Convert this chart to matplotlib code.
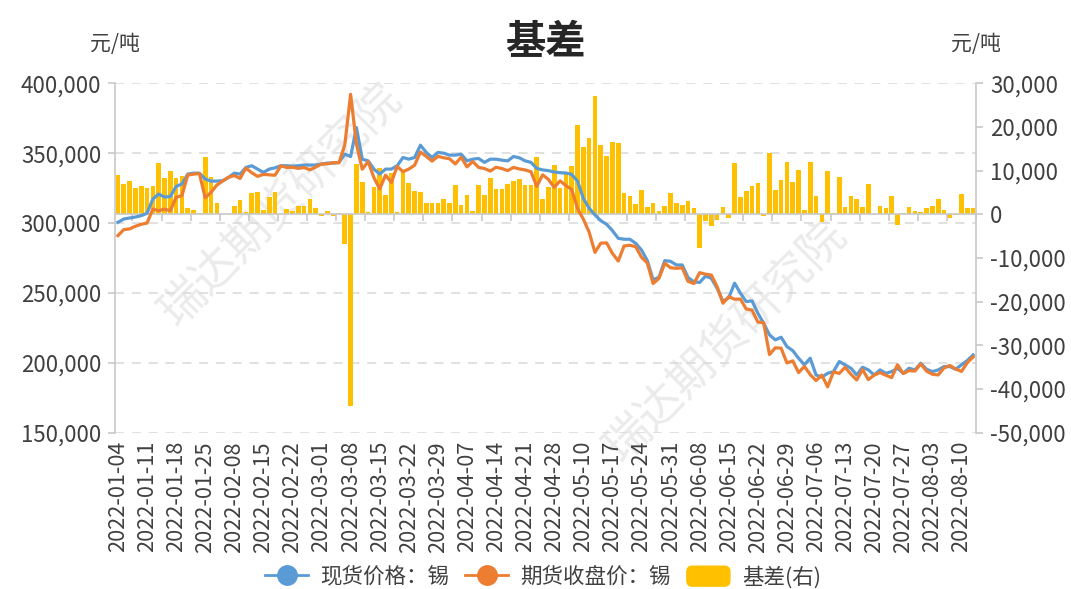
import numpy as np
import pandas as pd
import matplotlib
matplotlib.use("Agg")
import matplotlib.pyplot as plt
from matplotlib.lines import Line2D
from matplotlib.patches import Patch, FancyBboxPatch
from matplotlib.legend_handler import HandlerPatch
from matplotlib.ticker import FuncFormatter

plt.rcParams['font.family'] = ['Noto Sans CJK SC', 'DejaVu Sans']

# SHFE trading days, 2022-01-04 .. 2022-08-12
holidays = ["2022-01-31", "2022-02-01", "2022-02-02", "2022-02-03", "2022-02-04",
            "2022-04-04", "2022-04-05", "2022-05-02", "2022-05-03", "2022-05-04",
            "2022-06-03"]
dates = pd.bdate_range("2022-01-04", "2022-08-12", freq="C", holidays=holidays)
date_labels = [d.strftime("%Y-%m-%d") for d in dates]

# 现货价格：锡 (元/吨)
spot = [300500, 302900, 303600, 304300, 305300, 307000, 317200, 320700, 318600, 319000,
        326200, 327900, 335000, 335700, 335700, 331500, 330000, 330000, 330300, 332600,
        335700, 335000, 339800, 341000, 338600, 336200, 338600, 339500, 341000, 341000,
        340700, 341000, 341500, 341500, 341500, 342200, 342900, 342900, 343400, 349300,
        347600, 368300, 345700, 344500, 338600, 335000, 338600, 338600, 341000, 346900,
        345700, 346900, 355700, 350500, 346900, 350500, 350000, 348600, 348600, 349300,
        344500, 345700, 346200, 343400, 345700, 345700, 345000, 344500, 347600, 346700,
        344500, 343400, 339100, 338000, 337500, 336500, 336000, 335800, 334800, 330000,
        317700, 310600, 305800, 301700, 299100, 294600, 289100, 288400, 288400, 285500,
        280700, 273100, 259300, 261200, 273100, 272600, 270000, 270000, 261000, 258000,
        257500, 262000, 260500, 253300, 244000, 246500, 257000, 249800, 243800, 244300,
        235500, 228300, 220000, 216400, 218300, 211600, 208700, 203300, 198500, 203300,
        191300, 189700, 192500, 193700, 200900, 198500, 196100, 191300, 196800, 194900,
        191300, 194900, 192500, 193700, 196100, 192500, 196100, 194900, 199700, 195400,
        193700, 194900, 197300, 197300, 195400, 198500, 201600, 205600]

# 期货收盘价：锡 (元/吨)
futures = [291000, 295300, 295800, 297700, 299100, 300000, 310000, 308800, 310000, 308800,
           318400, 319600, 334300, 335000, 335400, 318100, 321900, 327200, 330000, 332800,
           334000, 331900, 339300, 336000, 333400, 334800, 334500, 334200, 340900, 339800,
           339900, 339100, 339700, 338100, 340000, 342300, 342300, 343200, 343100, 356000,
           392100, 356400, 338500, 344000, 332500, 324400, 334300, 329000, 340500, 336800,
           338600, 341400, 350800, 347700, 344300, 347700, 346700, 346000, 342300, 347100,
           340200, 344000, 339800, 339000, 337200, 339900, 339000, 337500, 339800, 338700,
           338000, 336700, 326200, 334500, 331200, 325500, 330200, 326800, 324000, 310500,
           302800, 293500, 279000, 285600, 285800, 278300, 272800, 283600, 284100, 283100,
           275500, 271400, 256700, 260400, 271200, 268000, 267600, 268000, 258300, 256700,
           264500, 263400, 262800, 254500, 242600, 247300, 245500, 245600, 238500, 237700,
           229200, 228600, 205900, 210700, 210500, 199900, 201400, 193000, 197400, 191600,
           187300, 191200, 182800, 193500, 192400, 196800, 191800, 187700, 195200, 188000,
           191200, 193000, 191100, 189400, 198600, 192300, 194400, 194100, 199200, 194000,
           191800, 191300, 196300, 198100, 195600, 193800, 200100, 204200]

# 基差(右) (元/吨)
basis = [9000, 6900, 7600, 6100, 6500, 6100, 6400, 11700, 8200, 9900,
         8400, 8700, 1400, 1000, 300, 13100, 8500, 2700, 0, 0,
         1900, 3300, 500, 4800, 5000, 1100, 4000, 5100, 100, 1200,
         800, 1800, 1900, 3500, 1500, -300, 800, -500, 200, -6900,
         -43900, 11600, 7400, 500, 6300, 10500, 4500, 9500, 500, 10200,
         7200, 5300, 5200, 2700, 2700, 2700, 3400, 2600, 6600, 2200,
         4500, 800, 6600, 4400, 8400, 5800, 5800, 7000, 7700, 8100,
         6600, 6600, 13100, 3500, 6300, 11200, 6000, 9200, 11100, 20500,
         15400, 17500, 27200, 15900, 13300, 16600, 16300, 4800, 4300, 2400,
         5600, 1700, 2700, 800, 1900, 4900, 2600, 2100, 3000, 1400,
         -7600, -1500, -2600, -1300, 1700, -900, 11700, 4000, 5300, 6500,
         7100, -400, 14100, 5600, 7800, 12000, 7400, 10200, 1100, 11900,
         4200, -1700, 10000, 200, 8500, 1700, 4300, 3600, 1600, 6900,
         100, 1900, 1400, 4300, -2500, 200, 1700, 800, 500, 1400,
         1900, 3600, 1000, -800, -200, 4700, 1500, 1400]

BLUE = "#5B9BD5"
ORANGE = "#ED7D31"
YELLOW = "#FFC000"
GRID = "#D9D9D9"
AXIS = "#C8C8C8"
TEXT = "#404040"

x = np.arange(len(dates))

fig = plt.figure(figsize=(10.71, 5.89), dpi=100)
ax = fig.add_axes([0.1074, 0.2654, 0.8039, 0.5932])
ax2 = ax.twinx()

# gridlines (behind bars), matching left-axis ticks
for f in np.linspace(0, 1, 6):
    ax2.plot([0, 1], [f, f], transform=ax2.transAxes, color=GRID,
             lw=1.1, dashes=(6, 5), zorder=0)

ax2.bar(x, basis, width=0.8, color=YELLOW, zorder=2)
ax2.axhline(0, color=AXIS, lw=1.2, zorder=3)
xt = np.arange(2.5, len(dates), 5)
ax2.plot(xt, np.zeros(len(xt)), ls="none", marker=3, ms=5, mew=1.2,
         color=AXIS, zorder=3)

ax.plot(x, spot, color=BLUE, lw=2.3, zorder=3)
ax.plot(x, futures, color=ORANGE, lw=2.3, zorder=4)
ax.set_zorder(ax2.get_zorder() + 1)
ax.patch.set_visible(False)

ax.set_xlim(-0.5, len(dates) - 0.5)
ax.set_ylim(150000, 400000)
ax2.set_ylim(-50000, 30000)
ax.set_yticks(np.arange(150000, 400001, 50000))
ax2.set_yticks(np.arange(-50000, 30001, 10000))
fmt = FuncFormatter(lambda v, p: f"{v:,.0f}")
ax.yaxis.set_major_formatter(fmt)
ax2.yaxis.set_major_formatter(fmt)

ax.set_xticks(x[::5])
ax.set_xticklabels(date_labels[::5], rotation=90)
ax.tick_params(axis="x", length=0, pad=6, labelsize=15.6, labelcolor=TEXT)
ax.tick_params(axis="y", length=5, width=1.2, color=AXIS, pad=5,
               labelsize=16, labelcolor=TEXT)
ax2.tick_params(axis="y", length=5, width=1.2, color=AXIS, pad=5,
                labelsize=16, labelcolor=TEXT)

for a in (ax, ax2):
    for s in ("top", "bottom"):
        a.spines[s].set_visible(False)
ax.spines["right"].set_visible(False)
ax2.spines["left"].set_visible(False)
ax.spines["left"].set_color(AXIS)
ax.spines["left"].set_linewidth(1.2)
ax2.spines["right"].set_color(AXIS)
ax2.spines["right"].set_linewidth(1.2)

fig.text(0.509, 0.927, "基差", ha="center", va="center", fontsize=29,
         fontweight="bold", color="#262626")
fig.text(0.107, 0.925, "元/吨", ha="center", va="center", fontsize=15, color=TEXT)
fig.text(0.911, 0.925, "元/吨", ha="center", va="center", fontsize=15, color=TEXT)

# watermark
for wx, wy in [(0.262, 0.652), (0.677, 0.42)]:
    fig.text(wx, wy, "瑞达期货研究院", ha="center", va="center", rotation=45,
             fontsize=33, color="#EBEBEB", zorder=-1)


def rounded_box(legend, orig_handle, xdescent, ydescent, width, height, fontsize):
    return FancyBboxPatch((-xdescent, -ydescent), width, height,
                          boxstyle="round,pad=0,rounding_size=4")


handles = [
    Line2D([], [], color=BLUE, lw=2, marker="o", ms=14),
    Line2D([], [], color=ORANGE, lw=2, marker="o", ms=14),
    Patch(color=YELLOW),
]
labels = ["现货价格：锡", "期货收盘价：锡", "基差(右)"]
fig.legend(handles, labels, loc="center", bbox_to_anchor=(0.507, 0.02),
           ncol=3, frameon=False, fontsize=15.5, labelcolor=TEXT,
           handlelength=2.0, handleheight=1.05, handletextpad=0.55,
           columnspacing=0.75,
           handler_map={Patch: HandlerPatch(patch_func=rounded_box)})

fig.savefig("out.png", dpi=100, facecolor="white")
